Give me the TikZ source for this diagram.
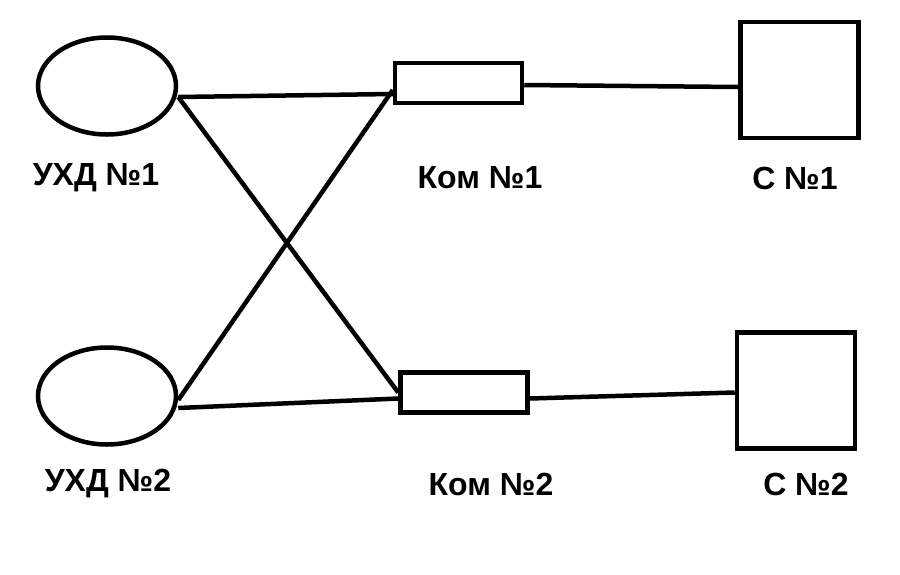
\documentclass[tikz,border=0pt]{standalone}
\usepackage{fontspec}
\setmainfont{Liberation Sans}
\usetikzlibrary{shapes.geometric}

\begin{document}
\begin{tikzpicture}[x=1pt, y=-1pt]

%-------------------------------------------------
% Styles
%-------------------------------------------------
\tikzset{
  uhd/.style={ellipse, draw=black, line width=4.5pt, minimum width=138pt, minimum height=97pt, inner sep=0pt},
  kom/.style={rectangle, draw=black, line width=4.5pt, minimum width=127pt, minimum height=40pt, inner sep=0pt},
  stn/.style={rectangle, draw=black, line width=4.5pt, minimum width=118pt, minimum height=116pt, inner sep=0pt},
  lbl/.style={font=\fontsize{32}{38}\selectfont\bfseries, inner sep=0pt},
  wire/.style={draw=black, line width=4.5pt}
}

\useasboundingbox (0,0) rectangle (900,574);

%-------------------------------------------------
% Left column (УХД)
%-------------------------------------------------
\node[uhd] (U1) at (107,86) {};
\node[uhd] (U2) at (107,396) {};

\node[lbl] (U1L) at (96,178) {УХД №1};
\node[lbl] (U2L) at (108,484) {УХД №2};

%-------------------------------------------------
% Middle column (Ком)
%-------------------------------------------------
\node[kom] (K1) at (458.5,83) {};
\node[kom] (K2) at (464,392.5) {};

\node[lbl] (K1L) at (480,178) {Ком №1};
\node[lbl] (K2L) at (491,484) {Ком №2};

%-------------------------------------------------
% Right column (С)
%-------------------------------------------------
\node[stn] (S1) at (799.5,80) {};
\node[stn] (S2) at (796,390.5) {};

\node[lbl] (S1L) at (795,178) {С №1};
\node[lbl] (S2L) at (806,484) {С №2};

%-------------------------------------------------
% Connections
%-------------------------------------------------
% straight links
\draw[wire] ([yshift=-11pt]U1.east) -- ([yshift=-11pt]K1.west);
\draw[wire] ([yshift=-12pt]U2.east) -- ([yshift=-6pt]K2.west);

% crossed links
\draw[wire] ([yshift=-11pt]U1.east) -- (K2.west);
\draw[wire] ([yshift=-4pt]U2.east) -- ([yshift=-7pt]K1.west);

% Ком -> С
\draw[wire] ([yshift=-2pt]K1.east) -- ([yshift=-7pt]S1.west);
\draw[wire] ([yshift=-6pt]K2.east) -- ([yshift=-2pt]S2.west);

\end{tikzpicture}
\end{document}
